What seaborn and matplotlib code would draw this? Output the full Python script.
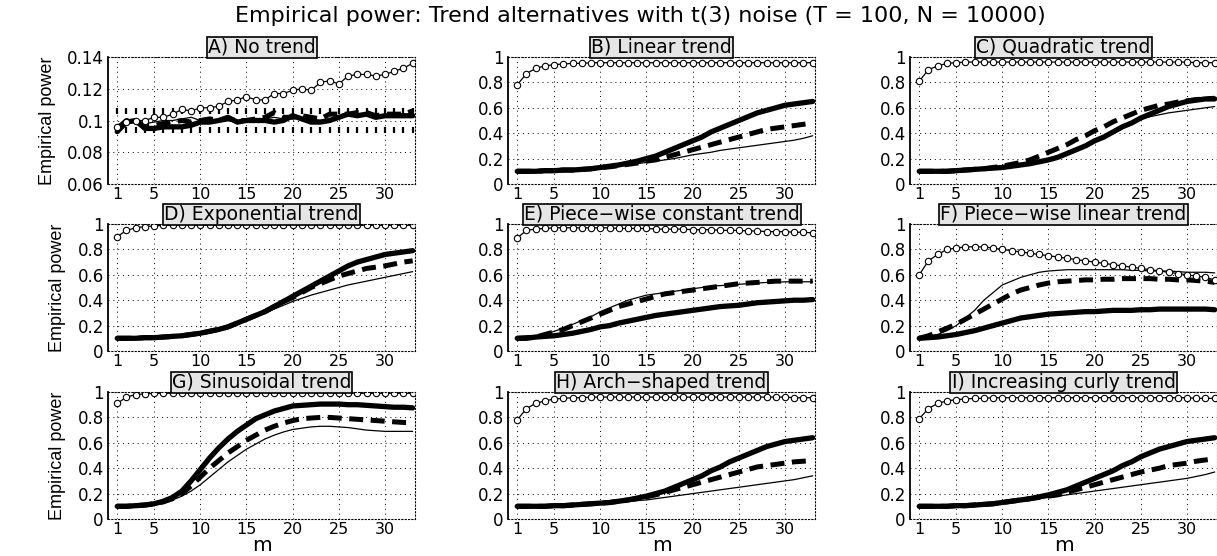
import matplotlib

matplotlib.use("Agg")
import matplotlib.pyplot as plt
import pandas as pd
import seaborn as sns


M = list(range(1, 34))

# Nominal level band (0.1 +/- binomial 95% bound), panel A only
BAND_LOW = 0.0941
BAND_HIGH = 0.1059

TITLES = [
    "A) No trend", "B) Linear trend", "C) Quadratic trend",
    "D) Exponential trend", "E) Piece\u2212wise constant trend", "F) Piece\u2212wise linear trend",
    "G) Sinusoidal trend", "H) Arch\u2212shaped trend", "I) Increasing curly trend",
]

A_circ = [0.096, 0.099, 0.100, 0.100, 0.102, 0.102, 0.104, 0.107, 0.106, 0.108, 0.108,
          0.109, 0.112, 0.113, 0.115, 0.113, 0.113, 0.117, 0.117, 0.119, 0.120, 0.119,
          0.124, 0.125, 0.123, 0.128, 0.129, 0.129, 0.128, 0.129, 0.131, 0.133, 0.136]
A_thick = [0.093, 0.099, 0.100, 0.095, 0.095, 0.096, 0.096, 0.096, 0.097, 0.099, 0.099,
           0.100, 0.102, 0.099, 0.100, 0.100, 0.100, 0.099, 0.100, 0.103, 0.101, 0.099,
           0.099, 0.100, 0.102, 0.104, 0.103, 0.104, 0.102, 0.103, 0.103, 0.103, 0.103]
A_dash = [0.095, 0.100, 0.099, 0.097, 0.097, 0.098, 0.099, 0.100, 0.099, 0.100, 0.101,
          0.100, 0.101, 0.100, 0.100, 0.101, 0.102, 0.105, 0.102, 0.102, 0.103, 0.102,
          0.101, 0.104, 0.104, 0.104, 0.105, 0.105, 0.103, 0.104, 0.104, 0.104, 0.106]
A_thin = [0.097, 0.100, 0.100, 0.098, 0.099, 0.100, 0.100, 0.101, 0.102, 0.100, 0.100,
          0.100, 0.101, 0.100, 0.100, 0.101, 0.101, 0.102, 0.101, 0.103, 0.102, 0.101,
          0.100, 0.101, 0.102, 0.104, 0.104, 0.104, 0.103, 0.103, 0.103, 0.103, 0.103]

B_circ = [0.78, 0.87, 0.91, 0.93, 0.94, 0.945, 0.95, 0.95, 0.955, 0.955, 0.955,
          0.955, 0.955, 0.955, 0.955, 0.955, 0.955, 0.955, 0.955, 0.955, 0.955, 0.955,
          0.955, 0.955, 0.955, 0.955, 0.955, 0.955, 0.955, 0.955, 0.955, 0.955, 0.955]
B_thick = [0.10, 0.10, 0.10, 0.105, 0.105, 0.11, 0.11, 0.115, 0.12, 0.13, 0.14,
           0.15, 0.165, 0.18, 0.20, 0.22, 0.25, 0.28, 0.31, 0.34, 0.37, 0.41,
           0.44, 0.47, 0.50, 0.53, 0.56, 0.58, 0.60, 0.62, 0.63, 0.64, 0.65]
B_dash = [0.10, 0.10, 0.10, 0.105, 0.105, 0.11, 0.11, 0.115, 0.12, 0.13, 0.135,
          0.145, 0.155, 0.165, 0.18, 0.19, 0.21, 0.23, 0.25, 0.27, 0.29, 0.31,
          0.33, 0.35, 0.37, 0.39, 0.41, 0.43, 0.44, 0.45, 0.46, 0.47, 0.48]
B_thin = [0.10, 0.10, 0.10, 0.105, 0.105, 0.11, 0.11, 0.115, 0.12, 0.125, 0.13,
          0.14, 0.15, 0.16, 0.17, 0.18, 0.19, 0.20, 0.215, 0.23, 0.24, 0.25,
          0.265, 0.275, 0.285, 0.295, 0.305, 0.315, 0.325, 0.335, 0.345, 0.36, 0.38]

C_circ = [0.81, 0.90, 0.93, 0.95, 0.955, 0.96, 0.96, 0.96, 0.96, 0.96, 0.96,
          0.96, 0.96, 0.96, 0.96, 0.96, 0.96, 0.96, 0.96, 0.96, 0.96, 0.96,
          0.96, 0.96, 0.96, 0.96, 0.96, 0.96, 0.96, 0.96, 0.955, 0.955, 0.955]
C_thick = [0.10, 0.10, 0.10, 0.10, 0.105, 0.11, 0.115, 0.12, 0.125, 0.13, 0.14,
           0.15, 0.16, 0.175, 0.19, 0.21, 0.24, 0.27, 0.30, 0.34, 0.37, 0.41,
           0.45, 0.48, 0.52, 0.55, 0.58, 0.61, 0.63, 0.65, 0.66, 0.67, 0.67]
C_dash = [0.10, 0.10, 0.10, 0.10, 0.105, 0.11, 0.115, 0.12, 0.13, 0.14, 0.155,
          0.17, 0.19, 0.22, 0.25, 0.28, 0.31, 0.35, 0.38, 0.42, 0.45, 0.49,
          0.52, 0.55, 0.58, 0.60, 0.62, 0.63, 0.645, 0.655, 0.665, 0.67, 0.675]
C_thin = [0.10, 0.10, 0.10, 0.10, 0.105, 0.11, 0.115, 0.12, 0.13, 0.14, 0.15,
          0.16, 0.17, 0.18, 0.20, 0.22, 0.25, 0.28, 0.31, 0.35, 0.38, 0.41,
          0.44, 0.48, 0.51, 0.53, 0.545, 0.56, 0.57, 0.58, 0.59, 0.60, 0.61]

D_circ = [0.90, 0.95, 0.97, 0.98, 0.985, 0.99, 0.99, 0.99, 0.99, 0.99, 0.99,
          0.99, 0.99, 0.99, 0.99, 0.99, 0.99, 0.99, 0.99, 0.99, 0.99, 0.99,
          0.99, 0.99, 0.99, 0.99, 0.99, 0.99, 0.99, 0.99, 0.99, 0.99, 0.99]
D_thick = [0.10, 0.10, 0.10, 0.105, 0.105, 0.11, 0.115, 0.12, 0.13, 0.14, 0.155,
           0.17, 0.19, 0.22, 0.25, 0.28, 0.31, 0.35, 0.39, 0.43, 0.47, 0.51,
           0.55, 0.59, 0.63, 0.67, 0.70, 0.72, 0.74, 0.76, 0.77, 0.78, 0.79]
D_dash = [0.10, 0.10, 0.10, 0.105, 0.105, 0.11, 0.115, 0.12, 0.13, 0.14, 0.155,
          0.17, 0.19, 0.22, 0.25, 0.28, 0.31, 0.35, 0.39, 0.42, 0.46, 0.50,
          0.53, 0.56, 0.59, 0.61, 0.63, 0.65, 0.66, 0.67, 0.685, 0.70, 0.71]
D_thin = [0.10, 0.10, 0.10, 0.105, 0.105, 0.11, 0.115, 0.12, 0.13, 0.14, 0.155,
          0.17, 0.19, 0.22, 0.24, 0.27, 0.30, 0.33, 0.36, 0.39, 0.415, 0.44,
          0.46, 0.48, 0.50, 0.52, 0.535, 0.55, 0.565, 0.58, 0.595, 0.61, 0.625]

E_circ = [0.89, 0.95, 0.96, 0.965, 0.97, 0.97, 0.97, 0.97, 0.97, 0.97, 0.97,
          0.965, 0.965, 0.965, 0.965, 0.96, 0.96, 0.96, 0.96, 0.955, 0.955, 0.955,
          0.95, 0.95, 0.95, 0.945, 0.945, 0.94, 0.94, 0.94, 0.935, 0.935, 0.93]
E_thick = [0.10, 0.10, 0.11, 0.115, 0.12, 0.13, 0.14, 0.155, 0.17, 0.19, 0.20,
           0.22, 0.235, 0.25, 0.265, 0.28, 0.29, 0.30, 0.31, 0.32, 0.33, 0.34,
           0.35, 0.355, 0.36, 0.37, 0.38, 0.385, 0.39, 0.395, 0.40, 0.40, 0.405]
E_dash = [0.10, 0.105, 0.11, 0.13, 0.15, 0.17, 0.20, 0.23, 0.26, 0.29, 0.32,
          0.35, 0.37, 0.39, 0.41, 0.43, 0.45, 0.46, 0.47, 0.48, 0.49, 0.50,
          0.51, 0.52, 0.53, 0.535, 0.54, 0.545, 0.55, 0.55, 0.55, 0.55, 0.55]
E_thin = [0.10, 0.105, 0.115, 0.13, 0.155, 0.18, 0.21, 0.24, 0.27, 0.31, 0.34,
          0.37, 0.40, 0.42, 0.44, 0.45, 0.46, 0.47, 0.48, 0.49, 0.50, 0.51,
          0.515, 0.52, 0.525, 0.53, 0.535, 0.54, 0.54, 0.545, 0.545, 0.545, 0.545]

F_circ = [0.60, 0.71, 0.76, 0.80, 0.81, 0.82, 0.82, 0.82, 0.81, 0.80, 0.79,
          0.78, 0.77, 0.76, 0.75, 0.74, 0.73, 0.72, 0.71, 0.70, 0.69, 0.68,
          0.67, 0.66, 0.65, 0.64, 0.63, 0.62, 0.61, 0.60, 0.59, 0.58, 0.56]
F_thick = [0.10, 0.105, 0.11, 0.12, 0.13, 0.145, 0.16, 0.18, 0.20, 0.22, 0.24,
           0.26, 0.27, 0.28, 0.29, 0.295, 0.30, 0.305, 0.31, 0.31, 0.315, 0.32,
           0.32, 0.32, 0.325, 0.325, 0.33, 0.33, 0.33, 0.33, 0.33, 0.33, 0.325]
F_dash = [0.10, 0.12, 0.15, 0.18, 0.21, 0.25, 0.29, 0.33, 0.37, 0.41, 0.45,
          0.48, 0.50, 0.52, 0.535, 0.545, 0.55, 0.555, 0.56, 0.56, 0.565, 0.565,
          0.57, 0.57, 0.57, 0.57, 0.565, 0.565, 0.56, 0.56, 0.555, 0.55, 0.54]
F_thin = [0.11, 0.12, 0.13, 0.16, 0.20, 0.26, 0.32, 0.40, 0.46, 0.52, 0.55,
          0.58, 0.60, 0.62, 0.63, 0.635, 0.64, 0.64, 0.64, 0.64, 0.64, 0.64,
          0.64, 0.635, 0.635, 0.63, 0.63, 0.63, 0.625, 0.62, 0.62, 0.62, 0.615]

G_circ = [0.91, 0.96, 0.98, 0.985, 0.99, 0.99, 0.99, 0.99, 0.99, 0.99, 0.99,
          0.99, 0.99, 0.99, 0.99, 0.99, 0.99, 0.99, 0.99, 0.99, 0.99, 0.99,
          0.99, 0.99, 0.99, 0.99, 0.99, 0.99, 0.99, 0.99, 0.99, 0.99, 0.99]
G_thick = [0.10, 0.10, 0.105, 0.11, 0.12, 0.14, 0.17, 0.22, 0.30, 0.39, 0.48,
           0.56, 0.63, 0.69, 0.74, 0.79, 0.82, 0.85, 0.87, 0.89, 0.895, 0.90,
           0.905, 0.905, 0.905, 0.90, 0.90, 0.895, 0.89, 0.885, 0.88, 0.88, 0.875]
G_dash = [0.10, 0.10, 0.105, 0.11, 0.12, 0.135, 0.16, 0.20, 0.26, 0.33, 0.40,
          0.46, 0.52, 0.57, 0.62, 0.66, 0.70, 0.73, 0.755, 0.775, 0.79, 0.795,
          0.80, 0.80, 0.795, 0.79, 0.785, 0.78, 0.775, 0.77, 0.765, 0.76, 0.76]
G_thin = [0.10, 0.10, 0.105, 0.11, 0.12, 0.13, 0.15, 0.18, 0.22, 0.27, 0.33,
          0.39, 0.45, 0.50, 0.55, 0.59, 0.63, 0.66, 0.685, 0.705, 0.715, 0.725,
          0.73, 0.73, 0.725, 0.72, 0.71, 0.70, 0.695, 0.69, 0.69, 0.69, 0.69]

H_circ = [0.78, 0.87, 0.91, 0.93, 0.945, 0.95, 0.955, 0.955, 0.96, 0.96, 0.96,
          0.96, 0.96, 0.96, 0.96, 0.96, 0.96, 0.96, 0.96, 0.96, 0.96, 0.96,
          0.96, 0.96, 0.96, 0.96, 0.96, 0.96, 0.96, 0.96, 0.955, 0.955, 0.955]
H_thick = [0.10, 0.10, 0.10, 0.10, 0.105, 0.105, 0.11, 0.115, 0.12, 0.125, 0.13,
           0.14, 0.15, 0.165, 0.18, 0.20, 0.22, 0.25, 0.28, 0.31, 0.34, 0.38,
           0.41, 0.45, 0.48, 0.51, 0.54, 0.57, 0.59, 0.61, 0.62, 0.63, 0.64]
H_dash = [0.10, 0.10, 0.10, 0.10, 0.105, 0.105, 0.11, 0.115, 0.12, 0.125, 0.13,
          0.14, 0.15, 0.16, 0.175, 0.19, 0.21, 0.23, 0.25, 0.27, 0.29, 0.31,
          0.33, 0.35, 0.37, 0.39, 0.41, 0.42, 0.43, 0.44, 0.45, 0.455, 0.46]
H_thin = [0.10, 0.10, 0.10, 0.10, 0.105, 0.105, 0.11, 0.115, 0.12, 0.125, 0.13,
          0.135, 0.14, 0.145, 0.15, 0.16, 0.17, 0.18, 0.19, 0.20, 0.21, 0.22,
          0.23, 0.24, 0.25, 0.26, 0.27, 0.28, 0.29, 0.30, 0.31, 0.325, 0.34]

I_circ = [0.79, 0.87, 0.91, 0.93, 0.94, 0.945, 0.95, 0.95, 0.955, 0.955, 0.955,
          0.955, 0.955, 0.955, 0.955, 0.955, 0.955, 0.955, 0.955, 0.955, 0.955, 0.955,
          0.955, 0.955, 0.955, 0.955, 0.955, 0.955, 0.955, 0.955, 0.95, 0.95, 0.95]
I_thick = [0.10, 0.10, 0.10, 0.10, 0.105, 0.105, 0.11, 0.115, 0.12, 0.13, 0.14,
           0.15, 0.16, 0.175, 0.19, 0.21, 0.23, 0.26, 0.29, 0.32, 0.35, 0.38,
           0.42, 0.45, 0.49, 0.52, 0.55, 0.57, 0.59, 0.61, 0.62, 0.63, 0.64]
I_dash = [0.10, 0.10, 0.10, 0.10, 0.105, 0.105, 0.11, 0.115, 0.12, 0.13, 0.14,
          0.15, 0.16, 0.17, 0.18, 0.19, 0.21, 0.23, 0.25, 0.27, 0.29, 0.31,
          0.33, 0.35, 0.37, 0.385, 0.40, 0.42, 0.43, 0.44, 0.455, 0.465, 0.475]
I_thin = [0.10, 0.10, 0.10, 0.10, 0.105, 0.105, 0.11, 0.115, 0.12, 0.13, 0.14,
          0.15, 0.155, 0.16, 0.17, 0.18, 0.19, 0.20, 0.21, 0.22, 0.23, 0.24,
          0.25, 0.26, 0.27, 0.28, 0.29, 0.30, 0.31, 0.32, 0.335, 0.35, 0.37]

PANELS = [
    (A_circ, A_thick, A_dash, A_thin),
    (B_circ, B_thick, B_dash, B_thin),
    (C_circ, C_thick, C_dash, C_thin),
    (D_circ, D_thick, D_dash, D_thin),
    (E_circ, E_thick, E_dash, E_thin),
    (F_circ, F_thick, F_dash, F_thin),
    (G_circ, G_thick, G_dash, G_thin),
    (H_circ, H_thick, H_dash, H_thin),
    (I_circ, I_thick, I_dash, I_thin),
]

FIG_W, FIG_H = 1217, 556
COL_LEFT = [108, 508, 910]
ROW_TOP = [57, 224, 392]
AX_W, AX_H = 307, 127

TICK_FONT = ["DejaVu Sans"]
LABEL_FONT = ["Liberation Sans", "DejaVu Sans"]


def draw_panel(ax, idx, series):
    circ, thick, dash, thin = series
    df = pd.DataFrame({"m": M, "circ": circ, "thick": thick, "dash": dash, "thin": thin})

    if idx == 0:
        band = pd.DataFrame({"m": M + M, "level": [BAND_LOW] * len(M) + [BAND_HIGH] * len(M)})
        sns.scatterplot(data=band, x="m", y="level", ax=ax, color="black",
                        marker="|", s=18, linewidth=1.6)

    sns.lineplot(data=df, x="m", y="thin", ax=ax, color="black", linewidth=0.9)
    sns.lineplot(data=df, x="m", y="dash", ax=ax, color="black", linewidth=3.6,
                 dashes=False, linestyle=(0, (2.8, 1.5)))
    sns.lineplot(data=df, x="m", y="thick", ax=ax, color="black", linewidth=3.8)
    sns.lineplot(data=df, x="m", y="circ", ax=ax, color="black", linewidth=0.9,
                 marker="o", markersize=4.6, markerfacecolor="white",
                 markeredgecolor="black", markeredgewidth=0.8)

    ax.set_xlim(0, 33.25)
    if idx == 0:
        ax.set_ylim(0.06, 0.14)
        ax.set_yticks([0.06, 0.08, 0.10, 0.12, 0.14])
        ax.set_yticklabels(["0.06", "0.08", "0.1", "0.12", "0.14"])
    else:
        ax.set_ylim(0, 1)
        ax.set_yticks([0, 0.2, 0.4, 0.6, 0.8, 1.0])
        ax.set_yticklabels(["0", "0.2", "0.4", "0.6", "0.8", "1"])
    ax.set_xticks([1, 5, 10, 15, 20, 25, 30])
    ax.set_xticklabels(["1", "5", "10", "15", "20", "25", "30"])

    ax.grid(True, linestyle=(0, (1, 4)), color="black", linewidth=0.7)
    ax.tick_params(length=0, labelsize=12, pad=3, labelcolor="black")
    ax.tick_params(axis="x", labelsize=11.5, pad=2)
    for lab in ax.get_xticklabels() + ax.get_yticklabels():
        lab.set_family(TICK_FONT)

    for side in ("top", "right", "bottom"):
        ax.spines[side].set_linestyle((0, (1, 2)))
        ax.spines[side].set_linewidth(0.8)
        ax.spines[side].set_color("black")
    ax.spines["left"].set_linewidth(1.3)
    ax.spines["left"].set_color("black")

    ax.set_title(TITLES[idx], fontsize=13.5, family=TICK_FONT, pad=3, color="black",
                 bbox=dict(facecolor="#e5e5e5", edgecolor="black", linewidth=1.2,
                           boxstyle="square,pad=0.06"))

    if idx >= 6:
        ax.set_xlabel("m", fontsize=14.5, family=TICK_FONT, color="black", va="bottom")
        ax.xaxis.set_label_coords(0.5, -0.283)
    else:
        ax.set_xlabel("")
    ax.set_ylabel("Empirical power" if idx % 3 == 0 else "", fontsize=13,
                  family=LABEL_FONT, labelpad=8, color="black")


def main():
    sns.set_style("white")
    plt.rcParams["font.family"] = ["DejaVu Sans"]

    fig = plt.figure(figsize=(FIG_W / 100, FIG_H / 100), dpi=100)
    for idx, series in enumerate(PANELS):
        row, col = divmod(idx, 3)
        left = COL_LEFT[col] / FIG_W
        bottom = (FIG_H - ROW_TOP[row] - AX_H) / FIG_H
        ax = fig.add_axes([left, bottom, AX_W / FIG_W, AX_H / FIG_H])
        draw_panel(ax, idx, series)

    fig.text(0.526, 0.972,
             "Empirical power: Trend alternatives with t(3) noise (T = 100, N = 10000)",
             ha="center", va="center", fontsize=16, color="black")

    fig.savefig("out.png", dpi=100)
    plt.close(fig)


if __name__ == "__main__":
    main()
